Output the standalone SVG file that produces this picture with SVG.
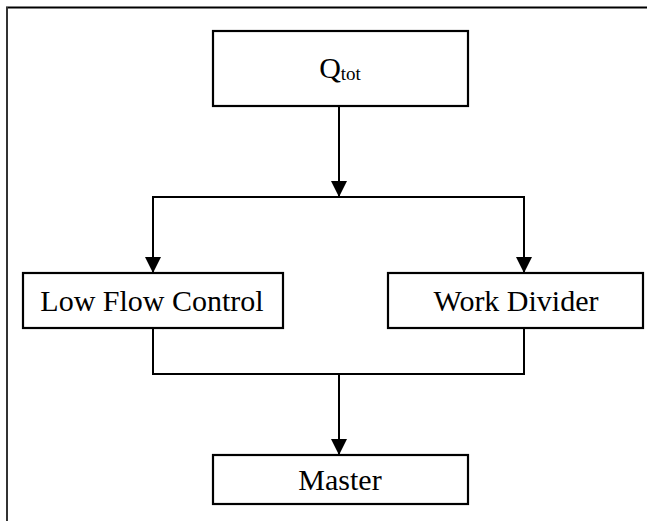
<svg xmlns="http://www.w3.org/2000/svg" width="647" height="521" viewBox="0 0 647 521">
<style>
.box{fill:#fff;stroke:#000;stroke-width:2.2}
.lbl{font-family:"Liberation Serif","Times New Roman",serif;font-size:30px;fill:#000;text-anchor:middle}
.sub{font-size:19px}
.ln{fill:none;stroke:#000;stroke-width:2}
</style>
<defs>
<marker id="ad" markerUnits="userSpaceOnUse" markerWidth="16" markerHeight="16" viewBox="0 0 16 16" refX="16" refY="8" orient="auto">
<path d="M0,0 L16,8 L0,16 Z" fill="#000"/>
</marker>
</defs>
<g id="frame">
<line x1="6" y1="7.5" x2="647" y2="7.5" stroke="#000" stroke-width="2.2"/>
<line x1="7" y1="7" x2="7" y2="521" stroke="#333" stroke-width="2"/>
</g>
<g id="connectors">
<line class="ln" x1="339" y1="106" x2="339" y2="197" marker-end="url(#ad)"/>
<polyline class="ln" points="153,260 153,197 524,197 524,260"/>
<line class="ln" x1="153" y1="257" x2="153" y2="273" marker-end="url(#ad)"/>
<line class="ln" x1="524" y1="257" x2="524" y2="273" marker-end="url(#ad)"/>
<polyline class="ln" points="153,328 153,374 524,374 524,328"/>
<line class="ln" x1="339" y1="374" x2="339" y2="455" marker-end="url(#ad)"/>
</g>
<g id="qtot">
<rect class="box" x="213" y="31" width="255" height="75"/>
<text class="lbl" x="340" y="78">Q<tspan class="sub" dy="2">tot</tspan></text>
</g>
<g id="lowflow">
<rect class="box" x="23" y="273" width="260" height="55"/>
<text class="lbl" x="152" y="311">Low Flow Control</text>
</g>
<g id="workdivider">
<rect class="box" x="388" y="273" width="255" height="55"/>
<text class="lbl" x="516" y="311">Work Divider</text>
</g>
<g id="master">
<rect class="box" x="213" y="455" width="255" height="49"/>
<text class="lbl" x="340" y="490">Master</text>
</g>
</svg>
